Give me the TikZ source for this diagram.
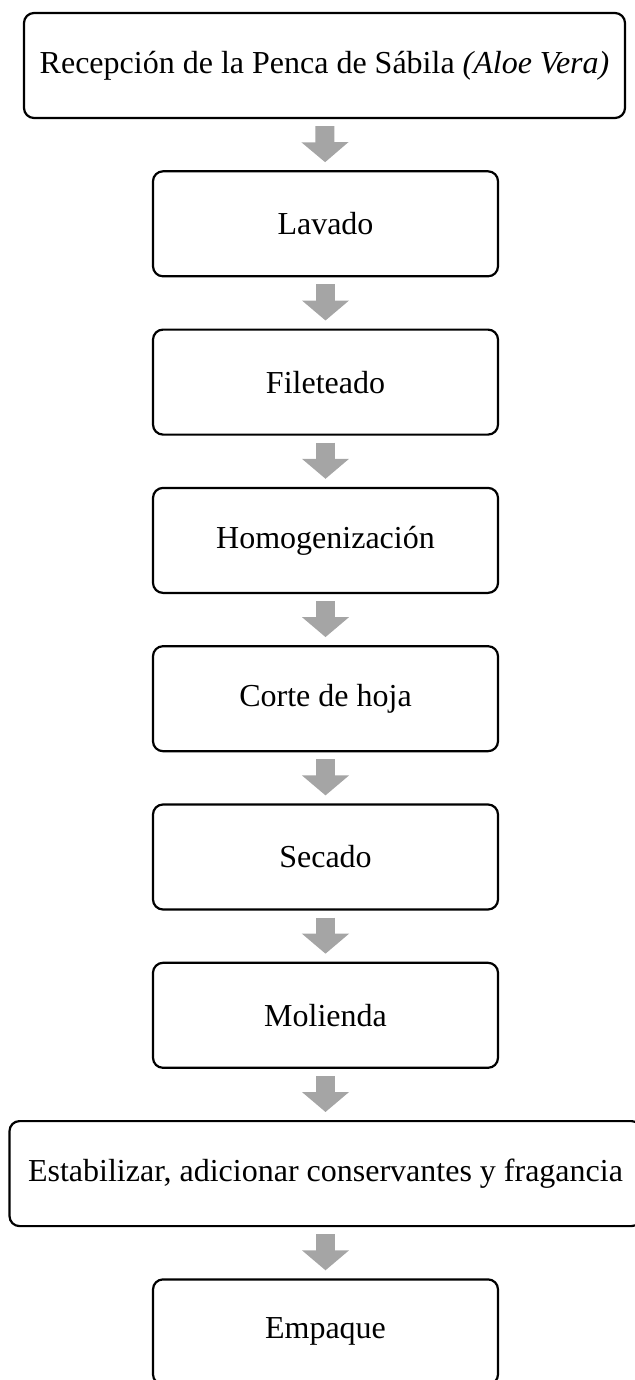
\documentclass[tikz,border=0pt]{standalone}
\usepackage{fontspec}
\setmainfont{Liberation Serif}
\usetikzlibrary{arrows.meta}
\definecolor{arrowgray}{HTML}{A5A5A5}
\tikzset{
  stepbox/.style={draw=black, line width=2.2pt, rounded corners=10pt, fill=white,
    minimum width=345pt, minimum height=105pt, align=center,
    font=\fontsize{32}{38}\selectfont},
  blockarrow/.style={draw=arrowgray, line width=19pt,
    -{Triangle[width=46pt,length=20pt]}, shorten <=7pt, shorten >=8pt}
}
\begin{document}
\begin{tikzpicture}[x=1pt,y=-1pt]
\useasboundingbox (0,0) rectangle (634,1380);
\node[stepbox, minimum width=601pt] (b1) at (324.5,65.5) {Recepción de la Penca de Sábila \textit{(Aloe Vera)}};
\node[stepbox] (b2) at (325.5,223.8) {Lavado};
\node[stepbox] (b3) at (325.5,382.1) {Fileteado};
\node[stepbox] (b4) at (325.5,540.4) {Homogenización};
\node[stepbox] (b5) at (325.5,698.7) {Corte de hoja};
\node[stepbox] (b6) at (325.5,857.0) {Secado};
\node[stepbox] (b7) at (325.5,1015.3) {Molienda};
\node[stepbox, minimum width=632pt] (b8) at (325.5,1173.6) {Estabilizar, adicionar conservantes y fragancia};
\node[stepbox] (b9) at (325.5,1331.9) {Empaque};
\foreach \a/\b in {b1/b2,b2/b3,b3/b4,b4/b5,b5/b6,b6/b7,b7/b8,b8/b9}
  \draw[blockarrow] (\a) -- (\b);
\end{tikzpicture}
\end{document}
